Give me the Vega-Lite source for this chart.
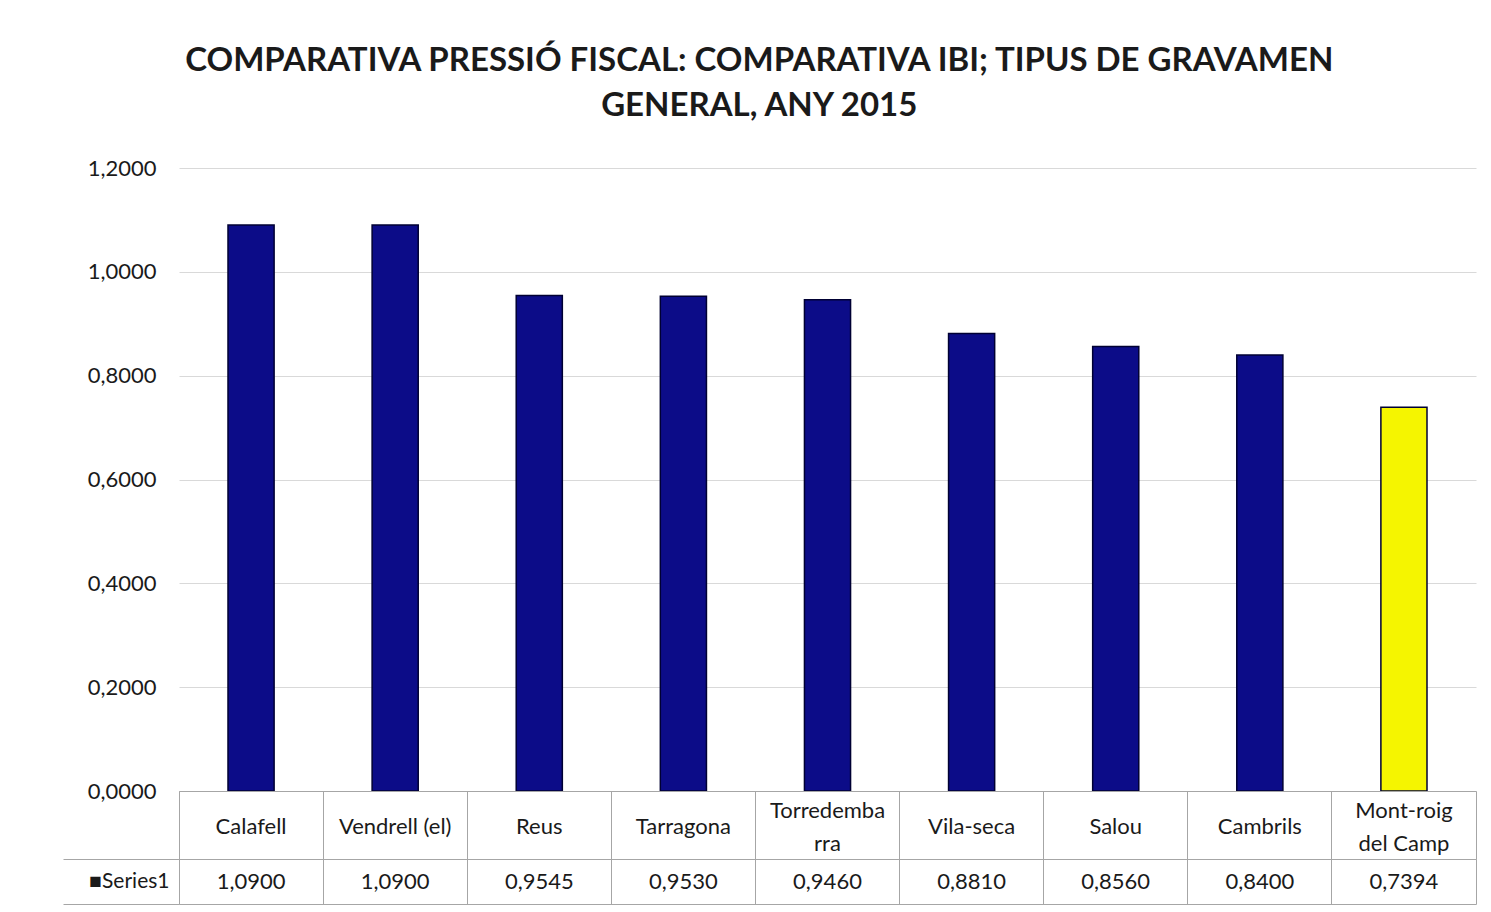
{
  "$schema": "https://vega.github.io/schema/vega-lite/v6.json",
  "background": "white",
  "padding": {"left": 62, "top": 45, "right": 16, "bottom": 5},
  "config": {
    "locale": {"number": {"decimal": ",", "thousands": ".", "grouping": [3], "currency": ["", " €"]}},
    "font": "Lato",
    "view": {"stroke": null},
    "text": {"lineBreak": "\n"}
  },
  "title": {
    "text": ["COMPARATIVA PRESSIÓ FISCAL: COMPARATIVA IBI; TIPUS DE GRAVAMEN", "GENERAL, ANY 2015"],
    "fontSize": 33,
    "fontWeight": "bold",
    "color": "#1a1a1a",
    "anchor": "middle",
    "lineHeight": 45,
    "offset": 34,
    "dx": -10
  },
  "data": {
    "values": [
      {"name": "Calafell", "label": "Calafell", "value": 1.09},
      {"name": "Vendrell (el)", "label": "Vendrell (el)", "value": 1.09},
      {"name": "Reus", "label": "Reus", "value": 0.9545},
      {"name": "Tarragona", "label": "Tarragona", "value": 0.953},
      {"name": "Torredembarra", "label": "Torredemba\nrra", "value": 0.946},
      {"name": "Vila-seca", "label": "Vila-seca", "value": 0.881},
      {"name": "Salou", "label": "Salou", "value": 0.856},
      {"name": "Cambrils", "label": "Cambrils", "value": 0.84},
      {"name": "Mont-roig del Camp", "label": "Mont-roig\ndel Camp", "value": 0.7394}
    ]
  },
  "spacing": 0,
  "bounds": "flush",
  "vconcat": [
    {
      "width": 1297,
      "height": 623,
      "mark": {"type": "bar", "stroke": "#000033", "strokeWidth": 1.5},
      "encoding": {
        "x": {"field": "name", "type": "nominal", "sort": null, "axis": null,
              "scale": {"paddingInner": 0.68, "paddingOuter": 0.34}},
        "y": {"field": "value", "type": "quantitative",
              "scale": {"domain": [0, 1.2]},
              "axis": {"values": [0, 0.2, 0.4, 0.6, 0.8, 1.0, 1.2], "format": ".4f", "title": null,
                       "domain": false, "ticks": false, "grid": true, "gridColor": "#d9d9d9",
                       "labelFontSize": 22, "labelPadding": 23, "labelColor": "#1a1a1a"}},
        "color": {"condition": {"test": "datum.name === 'Mont-roig del Camp'", "value": "#f5f500"}, "value": "#0c0c88"}
      }
    },
    {
      "width": 1297,
      "height": 68,
      "view": {"stroke": "#a6a6a6"},
      "encoding": {
        "x": {"field": "name", "type": "nominal",
              "sort": ["Calafell", "Vendrell (el)", "Reus", "Tarragona", "Torredembarra", "Vila-seca", "Salou", "Cambrils", "Mont-roig del Camp"],
              "scale": {"type": "band", "paddingInner": 0, "paddingOuter": 0},
              "axis": {"title": null, "labels": false, "ticks": false, "domain": false,
                       "grid": true, "bandPosition": 0, "gridColor": "#a6a6a6"}},
        "y": {"datum": "cat", "type": "nominal",
              "scale": {"type": "band", "paddingInner": 0, "paddingOuter": 0},
              "axis": {"title": null, "labels": false, "bandPosition": 1, "ticks": true,
                       "tickSize": 116, "tickColor": "#a6a6a6", "domain": false}},
        "text": {"field": "label"}
      },
      "layer": [
        {
          "transform": [{"filter": "indexof(datum.label, '\\n') < 0"}],
          "mark": {"type": "text", "fontSize": 22, "color": "#1a1a1a", "dy": 2}
        },
        {
          "transform": [{"filter": "indexof(datum.label, '\\n') >= 0"}],
          "mark": {"type": "text", "fontSize": 22, "lineHeight": 33, "color": "#1a1a1a", "dy": -14}
        }
      ]
    },
    {
      "width": 1297,
      "height": 45,
      "view": {"stroke": "#a6a6a6"},
      "mark": {"type": "text", "fontSize": 22, "color": "#1a1a1a"},
      "encoding": {
        "x": {"field": "name", "type": "nominal", "sort": null,
              "scale": {"type": "band", "paddingInner": 0, "paddingOuter": 0},
              "axis": {"title": null, "labels": false, "ticks": false, "domain": false,
                       "grid": true, "bandPosition": 0, "gridColor": "#a6a6a6"}},
        "y": {"datum": "Series1", "type": "nominal",
              "scale": {"type": "band", "paddingInner": 0, "paddingOuter": 0},
              "axis": {"title": null, "labelExpr": "'■Series1'", "bandPosition": 1, "ticks": true,
                       "tickSize": 116, "tickColor": "#a6a6a6", "labelPadding": -106, "domain": false,
                       "labelFontSize": 21, "labelColor": "#1a1a1a"}},
        "text": {"field": "value", "type": "quantitative", "format": ".4f"}
      }
    }
  ]
}
